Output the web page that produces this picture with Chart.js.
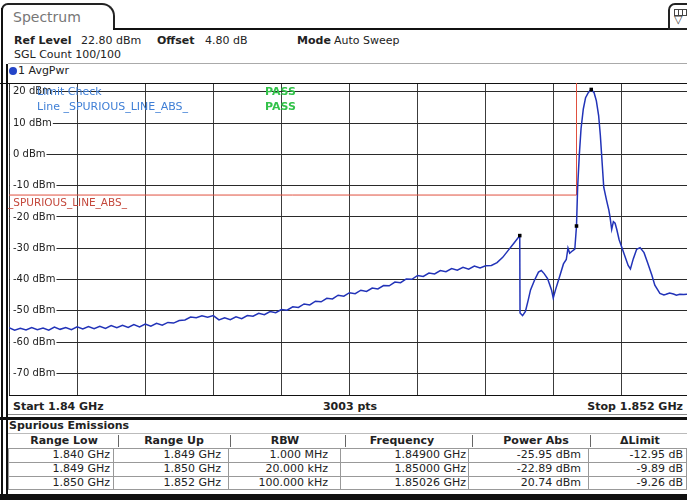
<!DOCTYPE html>
<html>
<head>
<title>Spectrum - Spurious Emissions</title>
<script src="https://cdn.jsdelivr.net/npm/chart.js"></script>
<style>
  body { margin: 0; background: #fff; font-family: "DejaVu Sans", sans-serif; font-size: 11px; color: #222; }
  #screen { position: relative; width: 687px; height: 500px; overflow: hidden; background: #fff; }
  .t { position: absolute; height: 14px; line-height: 14px; white-space: nowrap; }
  .b { font-weight: bold; }
  .ln { position: absolute; background: #111; }
  .tab { position: absolute; left: 1px; top: 3px; width: 114px; height: 27px; border: 2px solid #222; border-bottom: none; border-radius: 7px 13px 0 0; box-sizing: border-box; }
  .icon { position: absolute; left: 668px; top: 3px; width: 30px; height: 27px; border: 2px solid #222; border-radius: 7px 0 0 0; box-sizing: border-box; }
  #plot { position: absolute; left: 0; top: 79px; }
</style>
</head>
<body>
<div id="screen">
  <!-- title tab and header -->
  <div class="tab"></div>
  <div class="t" style="left:13px;top:8px;height:18px;line-height:18px;font-size:14px;color:#777">Spectrum</div>
  <div class="ln" style="left:113px;top:28px;width:557px;height:2px"></div>
  <div class="icon">
    <div style="position:absolute;left:4px;top:4px;width:12px;height:5px;border:1px solid #444;background:repeating-linear-gradient(90deg,#fff 0 3px,#444 3px 4px)"></div>
    <div style="position:absolute;left:4px;top:9px;font-size:11px;line-height:12px;color:#444">&#9661;</div>
  </div>

  <div class="t b" style="left:14px;top:34px">Ref Level</div>
  <div class="t" style="left:81px;top:34px">22.80 dBm</div>
  <div class="t b" style="left:157px;top:34px">Offset</div>
  <div class="t" style="left:205px;top:34px">4.80 dB</div>
  <div class="t b" style="left:297px;top:34px">Mode</div>
  <div class="t" style="left:334px;top:34px">Auto Sweep</div>
  <div class="t" style="left:14px;top:48px">SGL Count 100/100</div>

  <div class="ln" style="left:8px;top:63px;width:679px;height:1px;background:#aaa"></div>
  <div style="position:absolute;left:9px;top:67px;width:8px;height:8px;border-radius:50%;background:#2445c8"></div>
  <div class="t" style="left:18px;top:64px">1 AvgPwr</div>

  <!-- left frame -->
  <div class="ln" style="left:1px;top:8px;width:2px;height:492px"></div>
  <div class="ln" style="left:6px;top:64px;width:2px;height:432px"></div>

  <div id="plot"><canvas id="spectrumChart" width="694" height="321"></canvas></div>

  <!-- footer -->
  <div class="t b" style="left:13px;top:400px">Start 1.84 GHz</div>
  <div class="t b" style="left:300px;top:400px;width:100px;text-align:center">3003 pts</div>
  <div class="t b" style="right:4px;top:400px">Stop 1.852 GHz</div>
  <div class="ln" style="left:8px;top:414px;width:679px;height:1px;background:#888"></div>
  <div class="ln" style="left:0;top:417px;width:687px;height:3px"></div>

  <div class="t b" style="left:9px;top:419px">Spurious Emissions</div>
  <div id="table"></div>
  <div class="ln" style="left:0;top:494px;width:687px;height:6px"></div>
</div>

<script>
  // Trace (1 AvgPwr), frequency in MHz, level in dBm
  const freqMHz = [
    1840.0, 1840.1, 1840.2, 1840.3, 1840.4, 1840.5, 1840.6, 1840.7, 1840.8, 1840.9,
    1841.0, 1841.1, 1841.2, 1841.3, 1841.4, 1841.5, 1841.6, 1841.7, 1841.8, 1841.9,
    1842.0, 1842.1, 1842.2, 1842.3, 1842.4, 1842.5, 1842.6, 1842.7, 1842.8, 1842.9,
    1843.0, 1843.1, 1843.2, 1843.3, 1843.4, 1843.5, 1843.6, 1843.7, 1843.8, 1843.9,
    1844.0, 1844.1, 1844.2, 1844.3, 1844.4, 1844.5, 1844.6, 1844.7, 1844.8, 1844.9,
    1845.0, 1845.1, 1845.2, 1845.3, 1845.4, 1845.5, 1845.6, 1845.7, 1845.8, 1845.9,
    1846.0, 1846.1, 1846.2, 1846.3, 1846.4, 1846.5, 1846.6, 1846.7, 1846.8, 1846.9,
    1847.0, 1847.1, 1847.2, 1847.3, 1847.4, 1847.5, 1847.6, 1847.7, 1847.8, 1847.9,
    1848.0, 1848.1, 1848.2, 1848.3, 1848.4, 1848.5, 1848.6, 1848.7, 1848.8, 1848.9,
    1849.0, 1849.005, 1849.05, 1849.10, 1849.15, 1849.19, 1849.26, 1849.33, 1849.38, 1849.43,
    1849.49, 1849.56, 1849.59, 1849.63, 1849.70, 1849.77, 1849.82, 1849.85, 1849.88, 1849.93,
    1849.97, 1850.00, 1850.02, 1850.05, 1850.08, 1850.12, 1850.16, 1850.21, 1850.26, 1850.31,
    1850.35, 1850.39, 1850.42, 1850.45, 1850.48, 1850.53, 1850.57, 1850.59, 1850.62, 1850.65,
    1850.68, 1850.71, 1850.75, 1850.79, 1850.85, 1850.91, 1850.95, 1851.00, 1851.06, 1851.12,
    1851.19, 1851.25, 1851.33, 1851.38, 1851.47, 1851.54, 1851.58, 1851.64, 1851.71, 1851.76,
    1851.82, 1851.89, 1852.00
  ];
  const levelDbm = [
    -55.4, -56.2, -55.6, -56.1, -55.3, -56.0, -55.5, -56.2, -55.2, -55.9,
    -55.3, -56.0, -55.1, -55.8, -55.0, -55.7, -54.9, -55.6, -54.7, -55.4,
    -54.6, -55.3, -54.4, -55.1, -54.2, -54.9, -54.0, -54.6, -53.7, -53.9,
    -53.1, -52.9, -52.0, -52.2, -51.6, -52.0, -51.5, -52.9, -52.2, -52.8,
    -51.9, -52.5, -51.5, -51.7, -50.8, -51.2, -50.2, -50.6, -49.6, -49.8,
    -48.7, -48.9, -47.8, -48.1, -46.9, -47.1, -46.0, -46.2, -45.0, -45.3,
    -44.2, -44.5, -43.4, -43.8, -42.7, -43.0, -41.9, -42.0, -40.8, -41.0,
    -39.8, -39.9, -38.7, -39.0, -37.9, -38.2, -37.1, -37.5, -36.5, -37.0,
    -36.1, -36.7, -35.7, -36.3, -35.6, -35.5, -34.6, -32.9, -30.6, -28.3,
    -25.95, -50.7, -51.5, -50.2, -46.5, -43.3, -40.2, -37.6, -37.1, -38.1,
    -39.7, -43.3, -45.9, -43.3, -39.2, -35.0, -33.6, -29.9, -31.6, -30.8,
    -30.3, -22.89, -10.5, 0.0, 8.2, 14.5, 18.1, 19.8, 20.74, 19.7,
    17.1, 12.4, 6.1, -2.2, -10.5, -14.7, -17.8, -19.9, -24.0, -21.5,
    -22.0, -24.0, -27.2, -29.3, -32.4, -35.5, -36.6, -33.4, -30.3, -29.8,
    -31.4, -34.5, -38.7, -41.8, -44.4, -44.9, -44.7, -44.3, -44.6, -45.0,
    -44.7, -44.8, -44.6
  ];

  // Limit line _SPURIOUS_LINE_ABS_
  const limitName = "_SPURIOUS_LINE_ABS_";
  const limitFreqMHz = [1840, 1850, 1850, 1852];
  const limitDbm = [-13, -13, 30, 30];

  // Peak markers of the three ranges
  const markerFreqMHz = [1849.0, 1850.0, 1850.26];
  const markerDbm = [-25.95, -22.89, 20.74];

  // Axis grid
  const xGridMHz = [1840, 1841.2, 1842.4, 1843.6, 1844.8, 1846, 1847.2, 1848.4, 1849.6, 1850.8, 1852];
  const yTicks = [20, 10, 0, -10, -20, -30, -40, -50, -60, -70];

  // Spurious emissions table
  const tableHeader = ["Range Low", "Range Up", "RBW", "Frequency", "Power Abs", "\u0394Limit"];
  const rangeLow = ["1.840 GHz", "1.849 GHz", "1.850 GHz"];
  const rangeUp = ["1.849 GHz", "1.850 GHz", "1.852 GHz"];
  const rbw = ["1.000 MHz", "20.000 kHz", "100.000 kHz"];
  const peakFreq = ["1.84900 GHz", "1.85000 GHz", "1.85026 GHz"];
  const powerAbs = ["-25.95 dBm", "-22.89 dBm", "20.74 dBm"];
  const deltaLimit = ["-12.95 dB", "-9.89 dB", "-9.26 dB"];

  // build the table
  const table = document.getElementById("table");
  const colEdges = [8, 113, 228, 340, 468, 588, 687];
  const headCenters = [64, 174, 285, 402, 536, 640];
  const headSeps = [118, 230, 345, 472, 590];
  const textRight = [110, 221, 328, 466, 581, 683];
  const rowTop = [448, 462, 476];
  const columns = [rangeLow, rangeUp, rbw, peakFreq, powerAbs, deltaLimit];

  function addDiv(style, text, cls) {
    const d = document.createElement("div");
    d.className = cls || "";
    d.setAttribute("style", style);
    if (text) d.textContent = text;
    table.appendChild(d);
  }

  addDiv("left:8px;top:433px;width:679px;height:1px;background:#bbb", "", "ln");
  tableHeader.forEach((h, i) => {
    addDiv(`left:${headCenters[i] - 60}px;top:434px;width:120px;text-align:center`, h, "t b");
  });
  headSeps.forEach(x => addDiv(`left:${x}px;top:435px;width:1px;height:12px;background:#666`, "", "ln"));
  addDiv("position:absolute;left:8px;top:448px;width:679px;height:42px;border:1px solid #999;box-sizing:border-box");
  rowTop.slice(1).forEach(y => addDiv(`left:8px;top:${y}px;width:679px;height:1px;background:#999`, "", "ln"));
  colEdges.slice(1, -1).forEach(x => addDiv(`left:${x}px;top:448px;width:1px;height:42px;background:#999`, "", "ln"));
  columns.forEach((col, c) => {
    col.forEach((txt, r) => {
      addDiv(`right:${687 - textRight[c]}px;top:${rowTop[r]}px`, txt, "t");
    });
  });

  // overlay: level labels, limit line name, limit check result
  const spectrumOverlay = {
    id: "spectrumOverlay",
    beforeDatasetsDraw(chart) {
      const { ctx, chartArea: a, scales: { y } } = chart;
      ctx.save();
      ctx.strokeStyle = "#111";
      ctx.lineWidth = 1;
      ctx.beginPath();
      ctx.moveTo(0, a.top + 0.5); ctx.lineTo(a.right, a.top + 0.5);
      ctx.moveTo(a.left, a.bottom - 0.5); ctx.lineTo(a.right, a.bottom - 0.5);
      ctx.stroke();

      ctx.textBaseline = "middle";
      ctx.font = "10px 'DejaVu Sans'";
      yTicks.forEach(v => {
        const py = y.getPixelForValue(v);
        const label = v + " dBm";
        const w = ctx.measureText(label).width;
        ctx.fillStyle = "#fff";
        ctx.fillRect(a.left + 1, py - 6, w + 4, 12);
        ctx.fillStyle = "#222";
        ctx.fillText(label, a.left + 4, py);
      });

      ctx.fillStyle = "#c4483c";
      ctx.font = "10.5px 'DejaVu Sans'";
      ctx.fillText(limitName, a.left - 1, y.getPixelForValue(limitDbm[0]) + 8);

      const rowY = y.getPixelForValue(20);
      ctx.font = "11px 'DejaVu Sans'";
      ctx.fillStyle = "#3f7fd6";
      ctx.fillText("Limit Check", 37, rowY);
      ctx.fillText("Line " + limitName, 37, rowY + 15);
      ctx.font = "bold 11px 'DejaVu Sans'";
      ctx.fillStyle = "#33c24a";
      ctx.fillText("PASS", 265, rowY);
      ctx.fillText("PASS", 265, rowY + 15);
      ctx.restore();
    }
  };

  const ctx = document.getElementById("spectrumChart").getContext("2d");
  const spectrumChart = new Chart(ctx, {
    type: "line",
    data: {
      datasets: [
        {
          label: "Markers",
          data: markerFreqMHz.map((f, i) => ({ x: f, y: markerDbm[i] })),
          showLine: false,
          pointStyle: "rect",
          pointRadius: 2.5,
          backgroundColor: "#000",
          borderColor: "#000",
          borderWidth: 0,
          order: 0
        },
        {
          label: "1 AvgPwr",
          data: freqMHz.map((f, i) => ({ x: f, y: levelDbm[i] })),
          borderColor: "#2233b8",
          borderWidth: 1.5,
          pointRadius: 0,
          tension: 0,
          order: 1
        },
        {
          label: limitName,
          data: limitFreqMHz.map((f, i) => ({ x: f, y: limitDbm[i] })),
          borderColor: "#e0503f",
          borderWidth: 1,
          pointRadius: 0,
          order: 2
        }
      ]
    },
    options: {
      responsive: false,
      animation: false,
      layout: { padding: { left: 9, right: 1, top: 0, bottom: 1 } },
      scales: {
        x: {
          type: "linear",
          min: 1840,
          max: 1852,
          afterBuildTicks: s => { s.ticks = xGridMHz.map(v => ({ value: v })); },
          afterFit: s => { s.height = 0; },
          ticks: { display: false },
          grid: { color: "#3c3c3c", drawTicks: false },
          border: { display: false }
        },
        y: {
          min: -77.2,
          max: 22.8,
          afterBuildTicks: s => { s.ticks = yTicks.map(v => ({ value: v })); },
          afterFit: s => { s.width = 0; },
          ticks: { display: false },
          grid: { color: "#2a2a2a", drawTicks: false },
          border: { display: false }
        }
      },
      plugins: {
        legend: { display: false },
        tooltip: { enabled: false }
      }
    },
    plugins: [spectrumOverlay]
  });
</script>
</body>
</html>
